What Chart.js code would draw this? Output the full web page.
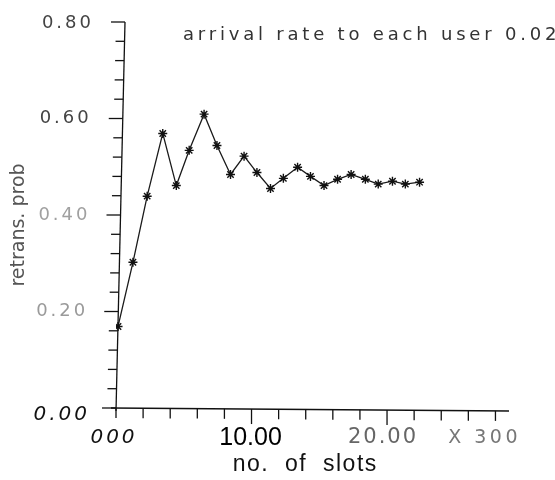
<!DOCTYPE html>
<html>
<head>
<meta charset="utf-8">
<script src="https://cdn.jsdelivr.net/npm/chart.js@4.4.1/dist/chart.umd.min.js"></script>
<style>
    html, body { margin: 0; padding: 0; background: #fff; }
    #wrap { width: 555px; height: 480px; }
</style>
</head>
<body>
<div id="wrap"><canvas id="retransChart" width="555" height="480"></canvas></div>
<script>
// values
const slots = [0.15, 1.25, 2.3, 3.45, 4.45, 5.4, 6.5, 7.45, 8.45, 9.45, 10.4, 11.4,
    12.35, 13.4, 14.35, 15.35, 16.35, 17.35, 18.4, 19.35, 20.4, 21.35, 22.4];
const retransProb = [0.169, 0.302, 0.439, 0.569, 0.461, 0.534, 0.609, 0.544, 0.484, 0.522, 0.488, 0.455,
    0.476, 0.499, 0.480, 0.461, 0.474, 0.484, 0.474, 0.464, 0.470, 0.464, 0.468];

const yTickValues = [0, 0.2, 0.4, 0.6, 0.8];
const yTickLabels = ['0.00', '0.20', '0.40', '0.60', '0.80'];
const xTickValues = [0, 10, 20, 27.2];
const xTickLabels = ['000', '10.00', '20.00', 'X 300'];
const yMinorStep = 0.04;
const xMinorStep = 2;
const xMax = 29;
const yMax = 0.8;
const titleText = 'arrival rate to each user 0.02';
const xTitle = 'no.  of  slots';
const yTitle = 'retrans. prob';

// look of each tick label (scan has mixed fonts / inks)
const yLabelStyle = [
    { font: 'italic 20px "DejaVu Sans"', color: '#111', spacing: '3px', dy: 7, dx: 0 },
    { font: '18px "DejaVu Sans"', color: '#9a9a9a', spacing: '3px', dy: 0, dx: -4 },
    { font: '18px "DejaVu Sans"', color: '#a0a0a0', spacing: '3px', dy: 0, dx: -4 },
    { font: '18px "DejaVu Sans"', color: '#444', spacing: '3px', dy: 0, dx: -5 },
    { font: '18px "DejaVu Sans"', color: '#444', spacing: '3px', dy: 1, dx: -5 }
];
const xLabelStyle = [
    { font: 'italic 20px "DejaVu Sans"', color: '#111', spacing: '3px', dx: -2 },
    { font: '25px "Liberation Sans"', color: '#000', spacing: '0px', dx: -1 },
    { font: '21px "DejaVu Sans"', color: '#666', spacing: '2px', dx: -4 },
    { font: '19px "DejaVu Sans"', color: '#777', spacing: '3.5px', dx: 0 }
];

const skew = 9 / 386; // y axis of the scan leans to the right

const paperAxes = {
    id: 'paperAxes',
    afterDraw(chart) {
        const ctx = chart.ctx;
        const xs = chart.scales.x;
        const ys = chart.scales.y;
        const x0 = xs.getPixelForValue(0);
        const y0 = ys.getPixelForValue(0);
        const axisX = (py) => x0 + (y0 - py) * skew;
        const axisY = (px) => y0 + (px - x0) * (3 / 392);

        ctx.save();
        ctx.strokeStyle = '#111';
        ctx.lineWidth = 1.3;

        // y axis
        ctx.beginPath();
        ctx.moveTo(axisX(y0), y0 + 3);
        ctx.lineTo(axisX(ys.getPixelForValue(yMax)), ys.getPixelForValue(yMax));
        ctx.stroke();
        for (let v = 0; v <= yMax + 1e-9; v += yMinorStep) {
            const py = ys.getPixelForValue(v);
            const major = Math.abs(v / 0.2 - Math.round(v / 0.2)) < 1e-6;
            const len = major ? 14 : 9;
            ctx.beginPath();
            ctx.moveTo(axisX(py) - len, py);
            ctx.lineTo(axisX(py), py);
            ctx.stroke();
        }

        // x axis
        const xEnd = xs.getPixelForValue(xMax);
        ctx.beginPath();
        ctx.moveTo(x0 - 5, y0);
        ctx.lineTo(xEnd, axisY(xEnd));
        ctx.stroke();
        for (let v = 0; v <= 28; v += xMinorStep) {
            const px = xs.getPixelForValue(v);
            const len = (v === 10 || v === 20) ? 15 : 10;
            ctx.beginPath();
            ctx.moveTo(px, axisY(px));
            ctx.lineTo(px, axisY(px) + len);
            ctx.stroke();
        }

        // y tick labels
        ctx.textAlign = 'right';
        ctx.textBaseline = 'middle';
        yTickValues.forEach((v, i) => {
            const st = yLabelStyle[i];
            const py = ys.getPixelForValue(v);
            ctx.font = st.font;
            ctx.fillStyle = st.color;
            ctx.letterSpacing = st.spacing;
            ctx.fillText(yTickLabels[i], axisX(py) - 26 + st.dx, py + st.dy);
        });

        // x tick labels
        ctx.textAlign = 'center';
        xTickValues.forEach((v, i) => {
            const st = xLabelStyle[i];
            ctx.font = st.font;
            ctx.fillStyle = st.color;
            ctx.letterSpacing = st.spacing;
            ctx.fillText(xTickLabels[i], xs.getPixelForValue(v) + st.dx, y0 + 30);
        });

        // axis titles
        ctx.letterSpacing = '1.5px';
        ctx.font = '23px "Liberation Sans"';
        ctx.fillStyle = '#111';
        ctx.textAlign = 'center';
        ctx.fillText(xTitle, (xs.getPixelForValue(10) + xs.getPixelForValue(20)) / 2 - 14, y0 + 57);

        ctx.save();
        ctx.translate(19, 225);
        ctx.rotate(-Math.PI / 2);
        ctx.font = '19px "DejaVu Sans"';
        ctx.fillStyle = '#555';
        ctx.letterSpacing = '0px';
        ctx.fillText(yTitle, 0, 0);
        ctx.restore();

        // top note, runs off the right edge like the scan
        ctx.textAlign = 'left';
        ctx.font = '18px "DejaVu Sans"';
        ctx.fillStyle = '#333';
        ctx.letterSpacing = '3.8px';
        ctx.fillText(titleText, 183, 35);
        ctx.restore();
    }
};

new Chart(document.getElementById('retransChart').getContext('2d'), {
    type: 'line',
    data: {
        datasets: [{
            data: slots.map((s, i) => ({ x: s, y: retransProb[i] })),
            borderColor: '#1a1a1a',
            borderWidth: 1.3,
            pointStyle: 'star',
            pointRadius: 4.5,
            pointBorderWidth: 1.4,
            pointBorderColor: '#111',
            pointBackgroundColor: '#111',
            tension: 0
        }]
    },
    options: {
        responsive: false,
        animation: false,
        devicePixelRatio: 1,
        layout: { padding: { left: 116, top: 22, right: 46, bottom: 72 } },
        scales: {
            x: { type: 'linear', min: 0, max: xMax, display: false },
            y: { type: 'linear', min: 0, max: yMax, display: false }
        },
        plugins: {
            legend: { display: false },
            tooltip: { enabled: false }
        }
    },
    plugins: [paperAxes]
});
</script>
</body>
</html>
